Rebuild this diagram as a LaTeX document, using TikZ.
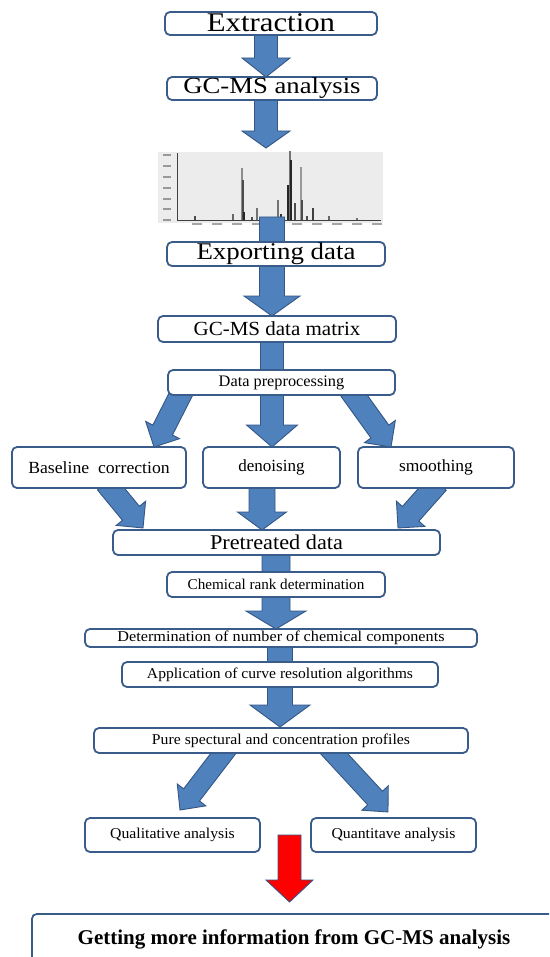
\documentclass[tikz,border=0pt]{standalone}
\usepackage{fontspec}
\setmainfont{Liberation Serif}
\usepackage{graphicx}
\definecolor{boxc}{RGB}{58,92,138}
\definecolor{arrfill}{RGB}{79,129,189}
\definecolor{arrline}{RGB}{52,86,132}
\definecolor{chrombg}{RGB}{236,236,236}
\tikzset{
  box/.style={draw=boxc, line width=1.8pt, rounded corners=5pt, fill=white, inner sep=0pt, align=center},
  barr/.style={fill=arrfill, draw=arrline, line width=0.9pt, line join=miter},
  rarr/.style={fill=red, draw=arrline, line width=0.9pt, line join=miter},
  peak/.style={line width=1.1pt, line cap=butt}
}
\newcommand\boxtxt[3]{\scalebox{#1}[1]{\fontsize{#2}{#2}\selectfont #3}}
% block arrow: [style] {from} {to} {shaft half width} {head half width} {head length}
\newcommand\blockarr[6][barr]{%
  \path (#2); \pgfgetlastxy{\baAx}{\baAy}%
  \path (#3); \pgfgetlastxy{\baBx}{\baBy}%
  \pgfmathsetmacro\baAng{atan2(\baBy-\baAy,\baBx-\baAx)}%
  \pgfmathsetmacro\baLen{veclen(\baBx-\baAx,\baBy-\baAy)}%
  \pgfmathsetmacro\baH{\baLen-#6}%
  \begin{scope}[shift={(\baAx,\baAy)}, rotate=\baAng]
    \filldraw[#1] (0pt,-#4pt) -- (\baH pt,-#4pt) -- (\baH pt,-#5pt) -- (\baLen pt,0pt)
      -- (\baH pt,#5pt) -- (\baH pt,#4pt) -- (0pt,#4pt) -- cycle;
  \end{scope}}
\begin{document}
\begin{tikzpicture}[x=1pt,y=-1pt]
\useasboundingbox (0,0) rectangle (549,957);
\clip (0,0) rectangle (549,957);

% ---- chromatogram ----
\node[fill=chrombg, minimum width=225pt, minimum height=71pt, inner sep=0pt] (chrom) at (270.5,187.5) {};
\draw[black!75, line width=0.6pt] (177,153) -- (177,220) -- (381,220);
\foreach \ty in {155,166,177,188,199,209,220}
  \draw[black!40, line width=1.1pt] (163,\ty) -- (171,\ty);
\foreach \tx in {197,217,237,257,277,297,317,337,357,377}
  \draw[black!35, line width=1.1pt] (\tx-5,224) -- (\tx+5,224);
\foreach \px/\py/\pc in {195/216/black!70, 233/214/black!60, 242/168/black!45, 243/180/black!70, 244/212/black!85,
  252/217/black!70, 257/208/black!55, 278/200/black!55, 281/214/black!80, 288/185/black!85,
  290/151/black!55, 291/160/black!85, 295/203/black!70, 301/167/black!40, 302/200/black!70,
  307/216/black!70, 313/208/black!75, 329/216/black!60, 357/218/black!55}
  \draw[peak, \pc] (\px,220) -- (\px,\py);

% ---- arrow end points ----
\coordinate (a1s) at (266,33);  \coordinate (a1e) at (266,77);
\coordinate (a2s) at (266,98);  \coordinate (a2e) at (266,148);
\coordinate (a3s) at (272,217); \coordinate (a3e) at (272,316);
\coordinate (a4s) at (272,340); \coordinate (a4e) at (272,447);
\coordinate (d1s) at (183,390); \coordinate (d1e) at (154,447);
\coordinate (d2s) at (350,390); \coordinate (d2e) at (391,447);
\coordinate (d3s) at (106,483); \coordinate (d3e) at (143,528);
\coordinate (a5s) at (262,485); \coordinate (a5e) at (262,530);
\coordinate (d4s) at (438,483); \coordinate (d4e) at (398,528);
\coordinate (a6s) at (276,553); \coordinate (a6e) at (276,629);
\coordinate (a7s) at (280,645); \coordinate (a7e) at (280,727);
\coordinate (d5s) at (229,746); \coordinate (d5e) at (180,810);
\coordinate (d6s) at (327,746); \coordinate (d6e) at (388,812);
\coordinate (a8s) at (289.5,835); \coordinate (a8e) at (289.5,902);

% ---- arrows ----
\blockarr{a1s}{a1e}{11.5}{24}{19}
\blockarr{a2s}{a2e}{11.5}{24}{17}
\blockarr{a3s}{a3e}{12.5}{28}{20}
\blockarr{a4s}{a4e}{11.5}{25.5}{22}
\blockarr{d1s}{d1e}{11}{19}{19}
\blockarr{d2s}{d2e}{11}{19}{19}
\blockarr{d3s}{d3e}{11}{19}{19}
\blockarr{a5s}{a5e}{13}{24.5}{18}
\blockarr{d4s}{d4e}{11}{19}{19}
\blockarr{a6s}{a6e}{14}{30}{18}
\blockarr{a7s}{a7e}{12.5}{30}{22}
\blockarr{d5s}{d5e}{10}{18}{19}
\blockarr{d6s}{d6e}{10}{18}{19}
\blockarr[rarr]{a8s}{a8e}{11.5}{23.5}{22}

% ---- boxes ----
\node[box, minimum width=212pt, minimum height=23pt] (ext) at (271,23.5) {\raisebox{1pt}{\boxtxt{1.14}{27}{Extraction}}};
\node[box, minimum width=210pt, minimum height=23pt] (gca) at (272,88.5) {\boxtxt{1.16}{23}{GC-MS analysis}};
\node[box, minimum width=218pt, minimum height=24pt] (exp) at (276,254) {\boxtxt{1.12}{24}{Exporting data}};
\node[box, minimum width=238pt, minimum height=26pt] (dm) at (277,329) {\boxtxt{1.05}{20}{GC-MS data matrix}};
\node[box, minimum width=227pt, minimum height=25pt] (pre) at (281.5,382.5) {\boxtxt{1.02}{16}{Data preprocessing}};
\node[box, minimum width=174pt, minimum height=41pt] (base) at (99,467.5) {\boxtxt{1.04}{17}{Baseline\ \ correction}};
\node[box, minimum width=137pt, minimum height=41pt] (den) at (271.5,467.5) {\boxtxt{1.0}{17}{denoising}};
\node[box, minimum width=156pt, minimum height=41pt] (smo) at (436,467.5) {\boxtxt{1.03}{17}{smoothing}};
\node[box, minimum width=327pt, minimum height=25pt] (ptd) at (276.5,542.5) {\boxtxt{1.06}{21}{Pretreated data}};
\node[box, minimum width=218pt, minimum height=25pt] (crk) at (276,584.5) {\boxtxt{1.01}{15}{Chemical rank determination}};
\node[box, minimum width=392pt, minimum height=18pt] (det) at (281,638) {\boxtxt{1.08}{15}{Determination of number of chemical components}};
\node[box, minimum width=316pt, minimum height=25pt] (app) at (280,674.5) {\boxtxt{1.04}{15}{Application of curve resolution algorithms}};
\node[box, minimum width=374pt, minimum height=25pt] (pure) at (281,740.5) {\boxtxt{1.05}{15}{Pure spectural and concentration profiles}};
\node[box, minimum width=175pt, minimum height=34pt] (qual) at (172.5,835) {\boxtxt{1.05}{15}{Qualitative analysis}};
\node[box, minimum width=165pt, minimum height=34pt] (quan) at (393.5,835) {\boxtxt{1.05}{15}{Quantitave analysis}};
\node[box, minimum width=570pt, minimum height=90pt, anchor=north west] (fin) at (31,913) {};
\node[inner sep=0pt] (fintxt) at (294,939) {\boxtxt{1.0}{21}{\bfseries Getting more information from GC-MS analysis}};
\end{tikzpicture}
\end{document}
